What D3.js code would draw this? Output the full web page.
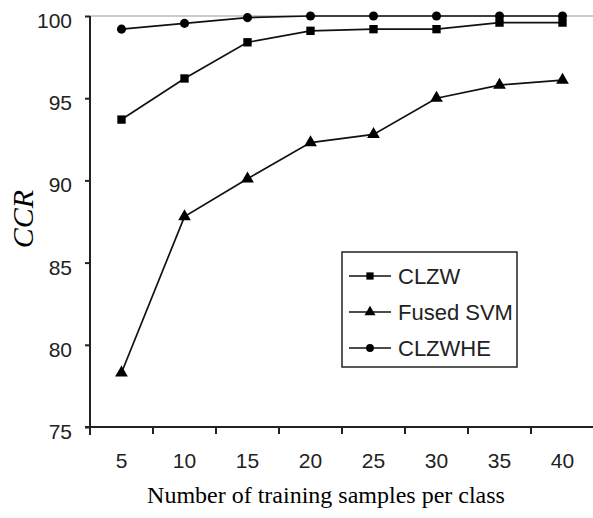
<!DOCTYPE html>
<html>
<head>
<meta charset="utf-8">
<script src="https://cdn.jsdelivr.net/npm/d3@7"></script>
<style>
  body { margin: 0; background: #fff; }
  .tick text { font-family: "Liberation Sans", Arial, sans-serif; font-size: 21px; fill: #222; }
</style>
</head>
<body>
<svg id="chart"></svg>
<script>
let samples = [5, 10, 15, 20, 25, 30, 35, 40]
let clzw = [93.7, 96.2, 98.4, 99.1, 99.2, 99.2, 99.6, 99.6]
let fusedSvm = [78.3, 87.8, 90.1, 92.3, 92.8, 95.0, 95.8, 96.1]
let clzwhe = [99.2, 99.55, 99.9, 100, 100, 100, 100, 100]
let yTicks = [75, 80, 85, 90, 95, 100]

let series = [
  {name: "CLZW", values: clzw, marker: d3.symbolSquare, size: 70},
  {name: "Fused SVM", values: fusedSvm, marker: d3.symbolTriangle, size: 70},
  {name: "CLZWHE", values: clzwhe, marker: d3.symbolCircle, size: 65}
]

let
  width = 593,
  height = 518,
  plotLeft = 90,
  plotTop = 16,
  plotBottom = 427

let svg = d3.select("#chart")
  .attr("width", width)
  .attr("height", height)

let x = d3.scaleBand().domain(samples).range([plotLeft, 594]).padding(0)
let y = d3.scaleLinear().domain([75, 100]).range([plotBottom, plotTop])

// top border of the plot area
svg.append("line")
  .attr("x1", plotLeft).attr("x2", width)
  .attr("y1", y(100)).attr("y2", y(100))
  .attr("stroke", "#999").attr("stroke-width", 1.2)

// y axis
let yAxis = svg.append("g")
  .attr("transform", `translate(${plotLeft},0)`)
  .call(d3.axisLeft(y).tickValues(yTicks).tickSize(5).tickPadding(13).tickSizeOuter(0))
yAxis.select(".domain").attr("stroke", "#222").attr("stroke-width", 2)
  .attr("d", `M0,${y(100)}V${plotBottom + 8}`)
yAxis.selectAll(".tick line").attr("stroke", "#222").attr("stroke-width", 2)
yAxis.selectAll(".tick text").attr("dy", "0.55em")

// x axis: labels centred in bands, ticks at band edges
let xAxis = svg.append("g")
  .attr("transform", `translate(0,${plotBottom})`)
  .call(d3.axisBottom(x).tickSize(0).tickPadding(26).tickSizeOuter(0))
xAxis.select(".domain").attr("stroke", "#222").attr("stroke-width", 2)
  .attr("d", `M${plotLeft - 5},0H${width}`)
xAxis.selectAll(".tick").append("line")
  .attr("x1", x.bandwidth() / 2).attr("x2", x.bandwidth() / 2)
  .attr("y1", 0).attr("y2", 7)
  .attr("stroke", "#222").attr("stroke-width", 2)

// lines and markers
let line = d3.line()
  .x((d, i) => x(samples[i]) + x.bandwidth() / 2)
  .y(d => y(d))

series.forEach(s => {
  svg.append("path")
    .attr("d", line(s.values))
    .attr("fill", "none")
    .attr("stroke", "#111")
    .attr("stroke-width", 1.7)

  svg.append("g").selectAll("path")
    .data(s.values).enter()
    .append("path")
    .attr("d", d3.symbol().type(s.marker).size(s.size))
    .attr("transform", (d, i) => `translate(${x(samples[i]) + x.bandwidth() / 2},${y(d)})`)
    .attr("fill", "#000")
})

// legend
let legend = svg.append("g").attr("transform", "translate(342,252)")
legend.append("rect")
  .attr("width", 175).attr("height", 115)
  .attr("fill", "#fff").attr("stroke", "#222").attr("stroke-width", 1.5)

let entries = legend.selectAll(".entry")
  .data(series).enter()
  .append("g")
  .attr("transform", (d, i) => `translate(0,${24 + i * 36})`)

entries.append("line")
  .attr("x1", 7).attr("x2", 49)
  .attr("stroke", "#111").attr("stroke-width", 1.7)
entries.append("path")
  .attr("d", d => d3.symbol().type(d.marker).size(d.size * 0.75)())
  .attr("transform", "translate(28,0)")
entries.append("text")
  .attr("x", 56).attr("dy", "0.36em")
  .style("font-family", "'Liberation Sans', Arial, sans-serif")
  .style("font-size", "22px")
  .attr("fill", "#222")
  .text(d => d.name)

// axis titles
svg.append("text")
  .attr("transform", "translate(33,219) rotate(-90)")
  .attr("text-anchor", "middle")
  .style("font-family", "'Liberation Serif', 'Times New Roman', serif")
  .style("font-style", "italic")
  .style("font-size", "30px")
  .text("CCR")

svg.append("text")
  .attr("x", (plotLeft + 594) / 2 - 16)
  .attr("y", 503)
  .attr("text-anchor", "middle")
  .style("font-family", "'Liberation Serif', 'Times New Roman', serif")
  .style("font-size", "24px")
  .text("Number of training samples per class")
</script>
</body>
</html>
